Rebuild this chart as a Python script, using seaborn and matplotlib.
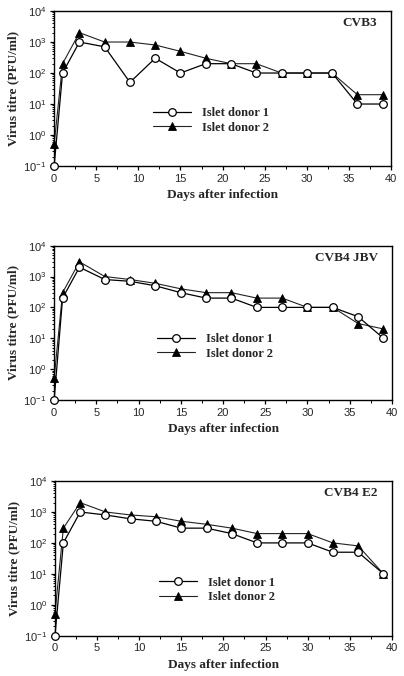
import matplotlib
matplotlib.use("Agg")
import matplotlib.pyplot as plt
import matplotlib.ticker as mticker
import pandas as pd
import seaborn as sns

days = [0, 1, 3, 6, 9, 12, 15, 18, 21, 24, 27, 30, 33, 36, 39]

panels = ["CVB3", "CVB4 JBV", "CVB4 E2"]

cvb3_donor1 = [0.1, 100, 1000, 700, 50, 300, 100, 200, 200, 100, 100, 100, 100, 10, 10]
cvb3_donor2 = [0.5, 200, 2000, 1000, 1000, 800, 500, 300, 200, 200, 100, 100, 100, 20, 20]

jbv_donor1 = [0.1, 200, 2000, 800, 700, 500, 300, 200, 200, 100, 100, 100, 100, 50, 10]
jbv_donor2 = [0.5, 300, 3000, 1000, 800, 600, 400, 300, 300, 200, 200, 100, 100, 30, 20]

e2_donor1 = [0.1, 100, 1000, 800, 600, 500, 300, 300, 200, 100, 100, 100, 50, 50, 10]
e2_donor2 = [0.5, 300, 2000, 1000, 800, 700, 500, 400, 300, 200, 200, 200, 100, 80, 10]

series = [(cvb3_donor1, cvb3_donor2), (jbv_donor1, jbv_donor2), (e2_donor1, e2_donor2)]

# axes boxes (figure fractions) and legend anchors per panel
boxes = [(0.134, 0.7544, 0.834, 0.2293),
         (0.134, 0.4083, 0.836, 0.2283),
         (0.136, 0.0596, 0.834, 0.2288)]
legend_pos = [(0.294, 0.293), (0.306, 0.348), (0.31, 0.296)]

sns.set_theme(style="ticks")
plt.rcParams["font.family"] = ["Liberation Sans", "DejaVu Sans"]
serif_bold = {"family": ["Liberation Serif", "DejaVu Serif"], "weight": "bold"}

fig = plt.figure(figsize=(4.04, 6.76), dpi=100)

for i, name in enumerate(panels):
    ax = fig.add_axes(boxes[i])
    d1, d2 = series[i]
    df = pd.DataFrame({"day": days, "donor1": d1, "donor2": d2})

    sns.lineplot(data=df, x="day", y="donor1", ax=ax, color="black", lw=0.9,
                 marker="o", ms=5.5, mfc="white", mec="black", mew=0.9,
                 label="Islet donor 1", clip_on=False, zorder=3)
    sns.lineplot(data=df, x="day", y="donor2", ax=ax, color="#222222", lw=0.8,
                 marker="^", ms=5.5, mfc="black", mec="black", mew=0.6,
                 label="Islet donor 2", clip_on=False, zorder=2)

    ax.set_yscale("log")
    ax.set_ylim(0.1, 1e4)
    ax.set_xlim(0, 40)
    ax.xaxis.set_major_locator(mticker.MultipleLocator(5))
    ax.xaxis.set_minor_locator(mticker.MultipleLocator(2.5))
    ax.yaxis.set_major_locator(mticker.LogLocator(base=10, numticks=10))
    ax.yaxis.set_minor_locator(mticker.LogLocator(base=10, subs=range(2, 10), numticks=20))
    ax.yaxis.set_minor_formatter(mticker.NullFormatter())

    ax.tick_params(axis="both", which="major", direction="out", length=3,
                   width=0.9, labelsize=8, pad=2.5, color="black")
    ax.tick_params(axis="both", which="minor", direction="out", length=1.8,
                   width=0.7, color="black")
    for s in ax.spines.values():
        s.set_visible(True)
        s.set_linewidth(1.0)
        s.set_color("black")

    ax.set_xlabel("Days after infection", fontdict=dict(serif_bold, size=9.5), labelpad=4)
    ax.set_ylabel("Virus titre (PFU/ml)", fontdict=dict(serif_bold, size=9.5), labelpad=3)

    ax.text(0.958, 0.92, name, transform=ax.transAxes, ha="right", va="center",
            fontdict=dict(serif_bold, size=9.5))

    ax.legend(loc="center left", bbox_to_anchor=legend_pos[i], frameon=False,
              borderpad=0, borderaxespad=0, handlelength=3.0, handletextpad=0.9,
              labelspacing=0.2, prop=dict(serif_bold, size=9))

fig.savefig("out.png", dpi=100, facecolor="white")
